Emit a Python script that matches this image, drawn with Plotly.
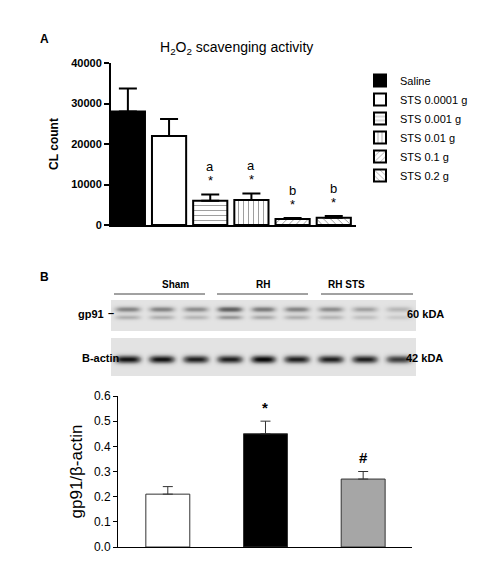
import numpy as np
import plotly.graph_objects as go

# Panel A data
groups_a = ["Saline", "STS 0.0001 g", "STS 0.001 g", "STS 0.01 g", "STS 0.1 g", "STS 0.2 g"]
cl_mean = [28000, 22000, 6000, 6200, 1500, 1800]
cl_sem = [5700, 4200, 1500, 1600, 200, 400]
sig_letters = ["", "", "a", "a", "b", "b"]
a_fill = ["black", "white", "white", "white", "white", "white"]
a_pattern = ["", "", "-", "|", "/", "\\"]
a_ticks = [0, 10000, 20000, 30000, 40000]
a_ticktext = ["0", "10000", "20000", "30000", "40000"]

# Panel B data
groups_b = ["Sham", "RH", "RH STS"]
ratio_mean = [0.21, 0.45, 0.27]
ratio_sem = [0.03, 0.05, 0.03]
b_marks = ["", "*", "#"]
b_fill = ["white", "black", "#a6a6a6"]
b_ticks = [0, 0.1, 0.2, 0.3, 0.4, 0.5, 0.6]
b_ticktext = ["0.0", "0.1", "0.2", "0.3", "0.4", "0.5", "0.6"]
# blot band darkness per lane (0..1)
gp91_band = [0.55, 0.55, 0.5, 0.75, 0.6, 0.55, 0.5, 0.4, 0.3]
actin_band = [0.9, 0.9, 0.85, 0.85, 0.95, 0.85, 0.85, 0.85, 0.75]

W, H = 502, 583
def px(x): return x / W
def py(y): return 1 - y / H

fig = go.Figure()

for i, g in enumerate(groups_a):
    fig.add_trace(go.Bar(
        x=[i], y=[cl_mean[i]], name=g, width=0.83,
        marker=dict(color=a_fill[i], line=dict(color="black", width=2),
                    pattern=dict(shape=a_pattern[i], fgcolor="black", bgcolor="white",
                                 size=5, solidity=0.15, fillmode="overlay") if a_pattern[i] else None),
        error_y=dict(type="data", array=[cl_sem[i]], arrayminus=[0], symmetric=False,
                     color="black", thickness=2, width=9),
        xaxis="x", yaxis="y", showlegend=True))
    if sig_letters[i]:
        fig.add_annotation(x=i, y=cl_mean[i] + cl_sem[i], yshift=28, text=sig_letters[i], showarrow=False,
                           xref="x", yref="y", font=dict(size=13, color="black"))
        fig.add_annotation(x=i, y=cl_mean[i] + cl_sem[i], yshift=14, text="*", showarrow=False,
                           xref="x", yref="y", font=dict(size=13, color="black"))

fig.add_trace(go.Bar(
    x=list(range(3)), y=ratio_mean, width=0.45, showlegend=False,
    marker=dict(color=b_fill, line=dict(color="#333", width=1)),
    error_y=dict(type="data", array=ratio_sem, arrayminus=[0, 0, 0], symmetric=False,
                 color="#333", thickness=1, width=5),
    xaxis="x2", yaxis="y2"))
for i, m in enumerate(b_marks):
    if m:
        fig.add_annotation(x=i, y=ratio_mean[i] + ratio_sem[i], yshift=14, text="<b>" + m + "</b>",
                           showarrow=False, xref="x2", yref="y2", font=dict(size=15, color="black"))

# Blot image
lane_w, rows = 34, 76
ncols = lane_w * 9
img = np.full((rows, ncols), 205.0)
yy = np.arange(rows)
for li in range(9):
    xs = np.arange(li * lane_w, (li + 1) * lane_w)
    prof = np.exp(-((xs - xs.mean()) / 13.0) ** 4)
    g1 = np.exp(-((yy - 9) / 3.0) ** 2) + 0.6 * np.exp(-((yy - 17) / 2.5) ** 2)
    g2 = np.exp(-((yy - 59) / 4.0) ** 2)
    g1[31:] = 0
    g2[:38] = 0
    dark = 170 * gp91_band[li] * np.outer(g1, prof) + 210 * actin_band[li] * np.outer(g2, prof)
    img[:, xs] -= dark
img[31:38, :] = 255
fig.add_trace(go.Heatmap(z=img, colorscale="Greys", reversescale=True, zmin=0, zmax=255,
                         showscale=False, xaxis="x3", yaxis="y3", hoverinfo="skip"))

ax = dict(showgrid=False, zeroline=False, color="black", linecolor="black")
fig.update_layout(
    width=W, height=H, margin=dict(l=0, r=0, t=0, b=0, autoexpand=False),
    plot_bgcolor="white", paper_bgcolor="white",
    font=dict(family="Liberation Sans, Arial", color="black"),
    barmode="overlay",
    xaxis=dict(**ax, domain=[px(103), px(348)], range=[-0.41, 5.54], showticklabels=False,
               ticks="", showline=True, linewidth=2, anchor="y"),
    yaxis=dict(**ax, domain=[py(217), py(55)], range=[0, 40000], tickvals=a_ticks, ticktext=a_ticktext,
               showline=True, linewidth=2, ticks="outside", ticklen=5, tickwidth=2,
               tickfont=dict(size=11, weight="bold"),
               title=dict(text="<b>CL count</b>", font=dict(size=12), standoff=10), anchor="x"),
    xaxis2=dict(**ax, domain=[px(110), px(404)], range=[-0.51, 2.5], showticklabels=False, ticks="",
                showline=True, linewidth=1, anchor="y2"),
    yaxis2=dict(**ax, domain=[py(539), py(388)], range=[0, 0.6], tickvals=b_ticks,
                ticktext=b_ticktext, showline=True, linewidth=1,
                ticks="outside", ticklen=4, tickfont=dict(size=12),
                title=dict(text="gp91/β-actin", font=dict(size=17), standoff=6), anchor="x2"),
    xaxis3=dict(domain=[px(103), px(408)], visible=False, range=[-0.5, ncols - 0.5], anchor="y3"),
    yaxis3=dict(domain=[py(368), py(292)], visible=False, range=[rows - 0.5, -0.5], anchor="x3"),
    legend=dict(x=px(352), y=py(58), xanchor="left", yanchor="top", font=dict(size=11),
                tracegroupgap=0, itemwidth=30, bgcolor="rgba(0,0,0,0)"),
)

def note(x, y, t, size=11, **kw):
    fig.add_annotation(x=px(x), y=py(y), xref="paper", yref="paper", text=t, showarrow=False,
                       font=dict(size=size, color="black"), **kw)

note(30, 22, "<b>A</b>", 12)
note(228, 29, "H<sub>2</sub>O<sub>2</sub> scavenging activity", 14)
note(30, 269, "<b>B</b>", 12)
for x0, x1, lab in [(106, 197, "Sham"), (209, 300, "RH"), (313, 405, "RH STS")]:
    note((x0 + x1) / 2, 276, "<b>" + lab + "</b>", 10)
    fig.add_shape(type="line", xref="paper", yref="paper", x0=px(x0), x1=px(x1), y0=py(286), y1=py(286),
                  line=dict(color="#444", width=1))
note(68, 306, "<b>gp91</b>", 11)
note(98, 305, "<b>–</b>", 11)
note(438, 306, "<b>60 kDA</b>", 11)
note(72, 350, "<b>B-actin</b>", 11)
note(437, 350, "<b>42 kDA</b>", 11)

fig.write_html("out.html")
